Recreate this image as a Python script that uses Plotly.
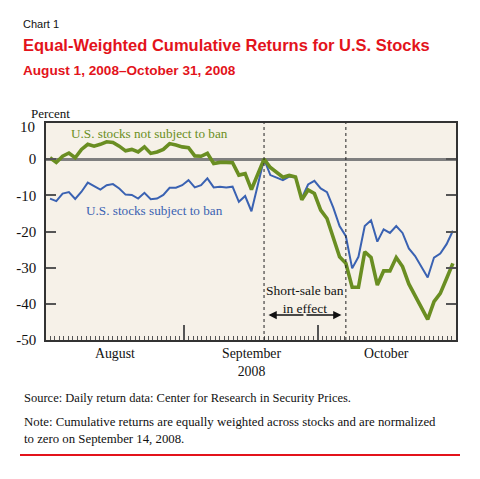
import plotly.graph_objects as go

# ---- data ----
trading_dates = [
    "2008-08-01", "2008-08-04", "2008-08-05", "2008-08-06", "2008-08-07", "2008-08-08",
    "2008-08-11", "2008-08-12", "2008-08-13", "2008-08-14", "2008-08-15",
    "2008-08-18", "2008-08-19", "2008-08-20", "2008-08-21", "2008-08-22",
    "2008-08-25", "2008-08-26", "2008-08-27", "2008-08-28", "2008-08-29",
    "2008-09-02", "2008-09-03", "2008-09-04", "2008-09-05",
    "2008-09-08", "2008-09-09", "2008-09-10", "2008-09-11", "2008-09-12",
    "2008-09-15", "2008-09-16", "2008-09-17", "2008-09-18", "2008-09-19",
    "2008-09-22", "2008-09-23", "2008-09-24", "2008-09-25", "2008-09-26",
    "2008-09-29", "2008-09-30", "2008-10-01", "2008-10-02", "2008-10-03",
    "2008-10-06", "2008-10-07", "2008-10-08", "2008-10-09", "2008-10-10",
    "2008-10-13", "2008-10-14", "2008-10-15", "2008-10-16", "2008-10-17",
    "2008-10-20", "2008-10-21", "2008-10-22", "2008-10-23", "2008-10-24",
    "2008-10-27", "2008-10-28", "2008-10-29", "2008-10-30", "2008-10-31",
]

not_subject = [
    0.4, -0.9, 0.8, 1.7, 0.4, 2.7, 4.1, 3.6, 4.1, 4.8, 4.6,
    3.6, 2.3, 2.7, 2.0, 3.4, 1.6, 2.0, 2.7, 4.3, 3.9,
    3.4, 3.2, 0.9, 0.8, 1.6, -1.2, -0.9, -0.9, -1.0,
    -4.4, -4.0, -8.4, -4.2, 0.0, -2.3, -3.7, -5.0, -4.5, -4.9,
    -11.2, -8.5, -9.5, -14.1, -16.4, -21.7, -27.0, -28.8,
    -35.4, -35.4, -25.6, -27.2, -34.8, -30.9, -30.9, -27.2, -29.7,
    -34.5, -37.6, -40.8, -44.3, -39.4, -37.1, -33.0, -28.8,
]

subject = [
    -10.9, -11.6, -9.5, -9.1, -11.0, -9.0, -6.5, -7.5, -8.4, -7.2, -6.9,
    -8.1, -9.8, -9.9, -10.9, -9.3, -11.1, -10.9, -9.9, -7.9, -7.9,
    -7.2, -5.8, -7.8, -7.2, -5.3, -7.8, -7.6, -7.8, -7.6,
    -11.8, -10.2, -14.4, -7.2, 0.0, -4.4, -5.0, -5.8, -4.8, -5.1,
    -10.8, -7.0, -6.0, -8.1, -9.1, -13.4, -18.5, -21.3,
    -30.2, -27.0, -18.5, -16.9, -22.8, -19.4, -20.4, -18.5, -20.4,
    -24.7, -26.8, -29.6, -32.7, -27.2, -26.1, -23.5, -19.8,
]

month_names = ["August", "September<br>2008", "October"]
month_starts = [0, 31, 61, 92]          # calendar-day offsets from Aug 1 (axis in days)
y_tick_vals = [-50, -40, -30, -20, -10, 0, 10]
y_tick_labels = ["-50", "-40", "-30", "-20", "-10", "0", "10"]
ban_start = "2008-09-19"
ban_end = "2008-10-08"

# points are evenly spaced across the calendar-day axis (as in the original)
first_day, last_day = 0.9, 91.3
n = len(trading_dates)
step = (last_day - first_day) / (n - 1)
xs = [first_day + i * step for i in range(n)]
x_ban_start = xs[trading_dates.index(ban_start)]
x_ban_end = xs[trading_dates.index(ban_end)]
x_ban_mid = (x_ban_start + x_ban_end) / 2

GREEN = "#6a8e22"
BLUE = "#3a62b2"
RED = "#e3131b"
SERIF = "Liberation Serif, DejaVu Serif, serif"
SANS = "Liberation Sans, Arial, sans-serif"

fig = go.Figure()
fig.add_trace(go.Scatter(x=xs, y=subject, mode="lines",
                         line=dict(color=BLUE, width=2), hoverinfo="skip"))
fig.add_trace(go.Scatter(x=xs, y=not_subject, mode="lines",
                         line=dict(color=GREEN, width=3.6), hoverinfo="skip"))

L, R, T, B = 46, 24, 123, 139
W, H = 480, 479
pw, ph = W - L - R, H - T - B


def px(x):
    return (x - L) / pw


def py(y):
    return (H - B - y) / ph


# the top tick label sits a little below its tick in the original
axis_ticktext = y_tick_labels[:-1] + [""]

annotations = [
    dict(text="Chart 1", x=px(21), y=py(24), xanchor="left", yanchor="middle",
         font=dict(family=SANS, size=11, color="#111")),
    dict(text="<b>Equal-Weighted Cumulative Returns for U.S. Stocks</b>", x=px(21), y=py(45),
         xanchor="left", yanchor="middle", font=dict(family=SANS, size=16.5, color=RED)),
    dict(text="<b>August 1, 2008\u2013October 31, 2008</b>", x=px(21), y=py(70),
         xanchor="left", yanchor="middle", font=dict(family=SANS, size=13.6, color=RED)),
    dict(text="Percent", x=px(29), y=py(113), xanchor="left", yanchor="middle",
         font=dict(family=SERIF, size=13, color="#111")),
    dict(text=y_tick_labels[-1], x=0, y=y_tick_vals[-1], yref="y", xanchor="right",
         yanchor="middle", xshift=-9, yshift=-4,
         font=dict(family=SERIF, size=15, color="#111")),
    dict(text="U.S. stocks not subject to ban", x=px(69), y=py(133), xanchor="left",
         yanchor="middle", font=dict(family=SERIF, size=13.2, color=GREEN)),
    dict(text="U.S. stocks subject to ban", x=px(84), y=py(210), xanchor="left",
         yanchor="middle", font=dict(family=SERIF, size=13.2, color=BLUE)),
    dict(text="Source: Daily return data: Center for Research in Security Prices.",
         x=px(22), y=py(398), xanchor="left", yanchor="middle",
         font=dict(family=SERIF, size=12.5, color="#111")),
    dict(text="Note: Cumulative returns are equally weighted across stocks and are normalized<br>"
              "to zero on September 14, 2008.",
         x=px(22), y=py(430), xanchor="left", yanchor="middle", align="left",
         font=dict(family=SERIF, size=12.8, color="#111")),
    dict(text="Short-sale ban<br>in effect", x=x_ban_mid, xref="x", y=py(299.5),
         xanchor="center", yanchor="middle",
         font=dict(family=SERIF, size=13.5, color="#111")),
]
for i, name in enumerate(month_names):
    annotations.append(dict(text=name, x=(month_starts[i] + month_starts[i + 1]) / 2,
                            xref="x", y=py(344), yanchor="top", xanchor="center",
                            font=dict(family=SERIF, size=13.8, color="#111")))
# double-headed arrow
for tip in (x_ban_start + 1.0, x_ban_end - 1.0):
    annotations.append(dict(x=tip, y=py(315), xref="x", yref="paper", ax=x_ban_mid,
                            ay=0, axref="x", ayref="pixel", text="",
                            showarrow=True, arrowhead=2, arrowsize=1.1,
                            arrowwidth=1.5, arrowcolor="#111"))
for a in annotations:
    a.setdefault("xref", "paper")
    a.setdefault("yref", "paper")
    a.setdefault("showarrow", False)

shapes = [
    dict(type="line", xref="x", yref="paper", x0=x_ban_start, x1=x_ban_start, y0=0, y1=1,
         line=dict(color="#222", width=1, dash="3px,3px")),
    dict(type="line", xref="x", yref="paper", x0=x_ban_end, x1=x_ban_end, y0=0, y1=1,
         line=dict(color="#222", width=1, dash="3px,3px")),
    dict(type="line", xref="paper", yref="paper", x0=px(20), x1=px(460), y0=py(455),
         y1=py(455), line=dict(color=RED, width=2)),
]

fig.update_layout(
    width=W, height=H,
    margin=dict(l=L, r=R, t=T, b=B),
    paper_bgcolor="white",
    plot_bgcolor="#f6f1e8",
    showlegend=False,
    annotations=annotations,
    shapes=shapes,
    xaxis=dict(range=[month_starts[0], month_starts[-1]], tickvals=month_starts,
               showticklabels=False, ticks="inside", ticklen=15, tickwidth=1.5,
               tickcolor="#555", showgrid=False, zeroline=False, showline=True,
               linecolor="#333", linewidth=1.5, mirror=True,
               minor=dict(ticks="inside", dtick=1, tick0=0, ticklen=4, tickwidth=1,
                          tickcolor="#555", showgrid=False)),
    yaxis=dict(range=[-50, 10], tickvals=y_tick_vals, ticktext=axis_ticktext,
               ticks="inside", ticklen=10, tickwidth=2, tickcolor="#555",
               showgrid=False, zeroline=True, zerolinecolor="#7f7f7f", zerolinewidth=2.5,
               showline=True, linecolor="#333", linewidth=1.5, mirror="ticks",
               ticklabelstandoff=5,
               tickfont=dict(family=SERIF, size=15, color="#111")),
)

fig.write_html("out.html")
